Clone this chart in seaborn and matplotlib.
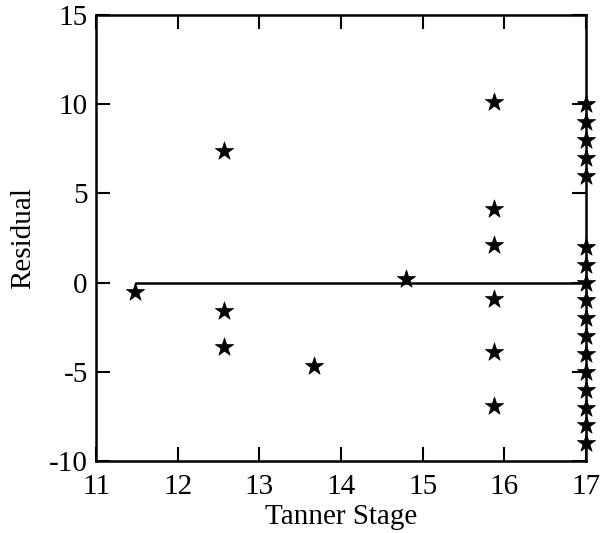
import matplotlib
matplotlib.use("Agg")
import matplotlib.pyplot as plt
import seaborn as sns
import pandas as pd

# Tanner stage vs. residual
tanner_stage = [11.47, 12.57, 12.57, 12.57, 13.67, 14.79,
                15.87, 15.87, 15.87, 15.87, 15.87, 15.87,
                17, 17, 17, 17, 17,
                17, 17, 17, 17, 17, 17, 17, 17, 17, 17, 17, 17]
residual = [-0.5, 7.4, -1.6, -3.6, -4.7, 0.2,
            10.1, 4.1, 2.1, -0.9, -3.9, -6.9,
            10, 9, 8, 7, 6,
            2, 1, 0, -1, -2, -3, -4, -5, -6, -7, -8, -9]

x_ticks = [11, 12, 13, 14, 15, 16, 17]
y_ticks = [-10, -5, 0, 5, 10, 15]

df = pd.DataFrame({"Tanner Stage": tanner_stage, "Residual": residual})

sns.set_theme(style="ticks")
plt.rcParams["font.family"] = ["Liberation Serif", "DejaVu Serif"]
plt.rcParams["axes.unicode_minus"] = False
plt.rcParams["text.color"] = "black"
plt.rcParams["axes.labelcolor"] = "black"

fig = plt.figure(figsize=(6.01, 5.33), dpi=100)
ax = fig.add_axes([0.16, 0.135, 0.815, 0.837])

# zero reference line spanning the observed stages
ax.hlines(0, df["Tanner Stage"].min(), df["Tanner Stage"].max(),
          color="black", linewidth=1.8, zorder=1)

sns.scatterplot(data=df, x="Tanner Stage", y="Residual", ax=ax,
                marker="*", s=190, color="black", edgecolor="black",
                linewidth=0.5, zorder=3, clip_on=False)

ax.set_xlim(11, 17)
ax.set_ylim(-10, 15)
ax.set_xticks(x_ticks)
ax.set_yticks(y_ticks)
ax.tick_params(direction="in", length=10, width=1.5, top=True, right=True,
               labelsize=21, colors="black")
ax.tick_params(axis="y", pad=6)
ax.tick_params(axis="x", pad=9)
for sp in ax.spines.values():
    sp.set_visible(True)
    sp.set_linewidth(1.8)
    sp.set_color("black")

ax.set_xlabel("Tanner Stage", fontsize=21, labelpad=3, color="black")
ax.set_ylabel("Residual", fontsize=21, labelpad=9, color="black")

fig.savefig("out.png", dpi=100, facecolor="white")
